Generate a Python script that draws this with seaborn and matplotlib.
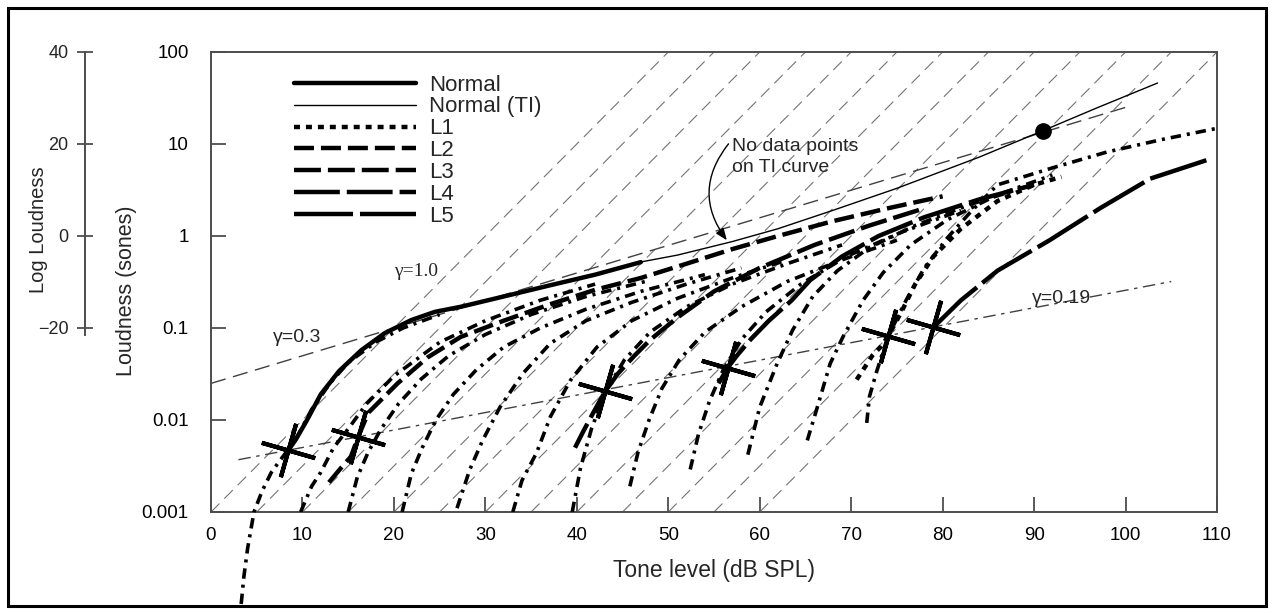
import numpy as np
import matplotlib
matplotlib.use("Agg")
import matplotlib.pyplot as plt
import seaborn as sns
from matplotlib.patches import Rectangle

sns.set_theme(style="white")
plt.rcParams["font.family"] = ["Liberation Sans", "DejaVu Sans"]
plt.rcParams["lines.scale_dashes"] = False

# loudness growth: tone level (dB SPL) -> loudness (sones)
normal_db = [8.4, 9.3, 10.5, 12, 14, 16.4, 19, 21.9, 24.5, 27.3, 32, 37, 42, 47]
normal_sones = [0.0046, 0.0062, 0.010, 0.019, 0.034, 0.057, 0.088, 0.122, 0.15, 0.17, 0.22, 0.29, 0.38, 0.52]

ti_db = [46, 51, 57, 62, 68, 75, 84, 91, 97, 103.5]
ti_sones = [0.50, 0.62, 0.87, 1.2, 1.9, 3.3, 7.2, 14, 25, 46]

l1_db = [70.6, 71.3, 72.3, 73.2, 74, 75.5, 77, 79, 82, 86, 90, 93]
l1_sones = [0.0275, 0.035, 0.05, 0.062, 0.08, 0.15, 0.3, 0.6, 1.2, 2.4, 3.6, 4.4]
l2_db = [12.9, 14.2, 15.3, 16.1, 17.2, 20.4, 23.7, 27.3, 32, 37, 42, 47, 52, 57, 62, 68, 74, 80]
l2_sones = [0.0021, 0.003, 0.004, 0.0066, 0.012, 0.025, 0.048, 0.08, 0.12, 0.18, 0.26, 0.35,
            0.5, 0.72, 1.0, 1.45, 2.0, 2.7]
l3_db = [39.8, 40.7, 41.8, 43.1, 44.5, 46.3, 48, 51, 55, 60, 66, 72, 78]
l3_sones = [0.005, 0.0075, 0.012, 0.0205, 0.032, 0.05, 0.074, 0.13, 0.25, 0.45, 0.8, 1.3, 2.0]
l4_db = [55.5, 56.5, 57.5, 59, 61, 63.5, 65.5, 69, 73, 78, 84, 90]
l4_sones = [0.025, 0.037, 0.05, 0.075, 0.12, 0.2, 0.33, 0.6, 1.0, 1.6, 2.5, 3.6]
l5_db = [79, 82, 86, 91.7, 97.2, 102.7, 109.5]
l5_sones = [0.102, 0.2, 0.42, 0.9, 2.0, 4.2, 7.0]

# dash-dot recruitment curves, one list per curve
model_db = [
    [3.3, 3.6, 4.0, 4.7, 5.6, 6.6, 7.6, 8.4, 9.5, 11, 13, 15, 18, 21, 25],
    [9.8, 11.0, 12.0, 13.4, 15, 17, 20, 25, 30, 36, 42],
    [15.0, 16.0, 17.2, 18.6, 20.5, 23, 26, 30, 35, 41, 48],
    [20.9, 21.9, 23.1, 24.6, 26.5, 29, 32, 36, 41, 47, 54],
    [26.9, 28.3, 29.7, 31.6, 34.1, 37.1, 41, 46, 52, 58],
    [33.0, 34.0, 35.6, 37.1, 39.3, 42.2, 46, 51, 57, 63],
    [39.5, 40.4, 41.6, 43.1, 45.2, 48, 52, 57, 63, 69],
    [45.8, 46.7, 47.9, 49.3, 51.2, 54, 58, 63, 69, 75],
    [52.4, 53.3, 54.5, 56, 58, 60.7, 64.5, 69.5, 75.5, 82],
    [58.7, 60, 61.9, 63.6, 65.8, 68.5, 72, 77, 83, 89],
    [65.2, 66.3, 67.7, 69.1, 71.3, 73.5, 76.5, 80.5, 86, 92],
    [71.7, 72.0, 72.8, 74.0, 76, 78, 80.5, 83, 86, 92, 98, 104, 110],
]
model_sones = [
    [0.0001, 0.0002, 0.0004, 0.001, 0.0017, 0.0027, 0.0037, 0.0047, 0.0068, 0.013, 0.025, 0.042, 0.07, 0.1, 0.14],
    [0.001, 0.0019, 0.0027, 0.005, 0.008, 0.015, 0.03, 0.07, 0.12, 0.2, 0.3],
    [0.001, 0.0024, 0.0045, 0.008, 0.015, 0.028, 0.05, 0.085, 0.14, 0.22, 0.33],
    [0.001, 0.0026, 0.005, 0.01, 0.019, 0.035, 0.062, 0.1, 0.16, 0.25, 0.38],
    [0.0011, 0.0029, 0.006, 0.0138, 0.032, 0.068, 0.12, 0.19, 0.3, 0.45],
    [0.001, 0.0022, 0.0044, 0.0108, 0.027, 0.062, 0.12, 0.21, 0.35, 0.55],
    [0.001, 0.003, 0.008, 0.02, 0.045, 0.09, 0.17, 0.3, 0.5, 0.8],
    [0.0019, 0.0045, 0.01, 0.022, 0.045, 0.09, 0.17, 0.32, 0.55, 0.9],
    [0.0029, 0.007, 0.016, 0.035, 0.075, 0.15, 0.3, 0.6, 1.1, 1.9],
    [0.0042, 0.0138, 0.041, 0.095, 0.22, 0.42, 0.75, 1.3, 2.2, 3.4],
    [0.006, 0.0138, 0.041, 0.08, 0.2, 0.4, 0.8, 1.5, 2.8, 4.6],
    [0.0093, 0.018, 0.034, 0.08, 0.2, 0.45, 0.95, 1.8, 3.6, 5.5, 8.2, 11.2, 14.8],
]

# threshold crosses, they sit on the gamma = 0.19 line
cross_db = [8.4, 16.1, 43.1, 56.5, 74.0, 79.0]
cross_sones = [0.0047, 0.0066, 0.0205, 0.037, 0.081, 0.102]

# reference lines
gamma1_start_db = [0, 5, 10, 15, 20, 25, 30, 35, 40, 45, 50, 55, 60]
gamma03_db = [0, 100]
gamma03_sones = [0.025, 25]
gamma019_db = [3, 105]
gamma019_sones = [0.0037, 0.32]
ti_dot_db = [91]
ti_dot_sones = [14]

fig = plt.figure(figsize=(12.74, 6.13), dpi=100)
ax = fig.add_axes([211 / 1274, 1 - 512 / 613, 1006 / 1274, 460 / 613])
ax.set_yscale("log")
ax.set_xlim(0, 110)
ax.set_ylim(0.001, 100)

# gamma = 1 grid, one decade of loudness per 10 dB
for x0 in gamma1_start_db:
    x1 = min(x0 + 50, 110)
    ax.plot([x0, x1], [0.001, 0.001 * 10 ** ((x1 - x0) / 10)], color="0.45",
            lw=0.8, linestyle=(0, (8.6, 5)), zorder=1)
ax.plot(gamma03_db, gamma03_sones, color="0.25", lw=1.0, linestyle=(0, (11, 5.5)), zorder=1)
ax.plot(gamma019_db, gamma019_sones, color="0.25", lw=1.0,
        linestyle=(0, (9, 4, 2.5, 4)), zorder=1)

dashdot = (0, (7.5, 4.3, 2.2, 4.3))
for i, (xs, ys) in enumerate(zip(model_db, model_sones)):
    sns.lineplot(x=xs, y=ys, ax=ax, color="black", lw=2.6, linestyle=dashdot,
                 sort=False, estimator=None, clip_on=(i != 0), zorder=3)

styles = [
    ("Normal", normal_db, normal_sones, 3.2, "-"),
    ("Normal (TI)", ti_db, ti_sones, 1.0, "-"),
    ("L1", l1_db, l1_sones, 3.2, (0, (4.3, 4.3))),
    ("L2", l2_db, l2_sones, 3.2, (0, (14.4, 5))),
    ("L3", l3_db, l3_sones, 3.2, (0, (19.4, 5))),
    ("L4", l4_db, l4_sones, 3.2, (0, (33, 5))),
    ("L5", l5_db, l5_sones, 3.2, (0, (42.5, 5))),
]
handles = []
for name, xs, ys, lw, ls in styles:
    sns.lineplot(x=xs, y=ys, ax=ax, color="black", lw=lw, linestyle=ls,
                 sort=False, estimator=None, zorder=4)
    handles.append(ax.lines[-1])

ax.plot(cross_db, cross_sones, linestyle="none", marker=(4, 2, -16), ms=40,
        mew=3, color="black", zorder=5)
ax.plot(ti_dot_db, ti_dot_sones, linestyle="none", marker="o", ms=11,
        color="black", zorder=5)

ax.legend(handles, [s[0] for s in styles], loc="upper left",
          bbox_to_anchor=(0.0825, 0.951), frameon=False, fontsize=16,
          handlelength=5.5, handletextpad=0.58, labelspacing=0.04,
          borderpad=0, borderaxespad=0)

ax.text(24.8, 0.41, "γ=1.0", fontsize=14, family=["Liberation Serif"], ha="right", va="center")
ax.text(6.8, 0.078, "γ=0.3", fontsize=14, ha="left", va="center")
ax.text(89.8, 0.21, "γ=0.19", fontsize=14, ha="left", va="center")
ax.annotate("No data points\non TI curve", xy=(56.4, 0.9), xytext=(57.0, 7.2),
            fontsize=14, ha="left", va="center", linespacing=1.3,
            arrowprops=dict(arrowstyle="-|>,head_length=0.5,head_width=0.2",
                            color="black", lw=1.0, relpos=(-0.03, 0.85),
                            connectionstyle="arc3,rad=0.38", shrinkA=0, shrinkB=0))

ax.set_xticks(range(0, 111, 10))
ax.set_yticks([0.001, 0.01, 0.1, 1, 10, 100])
ax.set_yticklabels(["0.001", "0.01", "0.1", "1", "10", "100"])
ax.minorticks_off()
ax.tick_params(axis="both", direction="in", length=11, width=1.2, color="0.25",
               labelsize=13.5, labelcolor="black", left=True, bottom=True)
ax.tick_params(axis="y", pad=16)
ax.tick_params(axis="x", pad=10.5)
for sp in ax.spines.values():
    sp.set_color("0.3")
    sp.set_linewidth(1.4)
ax.set_xlabel("Tone level (dB SPL)", fontsize=16.5)
ax.set_ylabel("Loudness (sones)", fontsize=15.5)
ax.xaxis.set_label_coords(0.5, -0.103)
ax.yaxis.set_label_coords(-0.074, 0.48)

# log loudness scale on the far left
sec = fig.add_axes([85 / 1274, 1 - 512 / 613, 0.0001, 460 / 613])
sec.set_ylim(-60, 40)
sec.patch.set_visible(False)
sec.set_xticks([])
for side in ["top", "right", "bottom"]:
    sec.spines[side].set_visible(False)
sec.spines["left"].set_bounds(-21.5, 40)
sec.spines["left"].set_color("0.3")
sec.spines["left"].set_linewidth(1.4)
sec.set_yticks([-20, 0, 20, 40])
sec.set_yticklabels(["\u221220", "0", "20", "40"])
sec.tick_params(axis="y", direction="inout", length=11.5, width=1.2, color="0.25",
                pad=6, labelsize=13, left=True)
sec.set_ylabel("Log Loudness", fontsize=14.5)
sec.yaxis.set_label_coords(48 / 1274, 1 - 230 / 613, transform=fig.transFigure)

fig.patches.append(Rectangle((8 / 1274, 7 / 613), 1258 / 1274, 598 / 613,
                             transform=fig.transFigure, fill=False, lw=2.2,
                             edgecolor="black"))

fig.savefig("out.png", dpi=100)
